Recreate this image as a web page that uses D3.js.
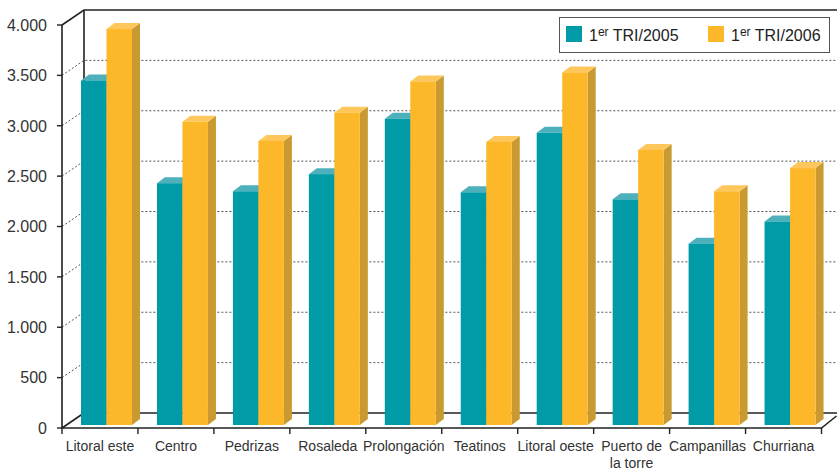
<!DOCTYPE html>
<html>
<head>
<meta charset="utf-8">
<script src="https://cdn.jsdelivr.net/npm/d3@7"></script>
<style>
  html, body { margin: 0; padding: 0; background: #fff; }
  svg { display: block; font-family: "Liberation Sans", Arial, sans-serif; }
</style>
</head>
<body>
<svg id="chart" width="837" height="470"></svg>
<script>
// Districts and first-quarter figures for 2005 and 2006
const categories = ["Litoral este", "Centro", "Pedrizas", "Rosaleda", "Prolongación",
  "Teatinos", "Litoral oeste", "Puerto de|la torre", "Campanillas", "Churriana"];
const series2005 = [3420, 2400, 2320, 2490, 3040, 2310, 2900, 2240, 1800, 2020];
const series2006 = [3930, 3010, 2820, 3100, 3410, 2810, 3500, 2730, 2320, 2550];
const seriesNames = ["TRI/2005", "TRI/2006"];
const yTicks = [0, 500, 1000, 1500, 2000, 2500, 3000, 3500, 4000];

const W = 837, H = 470;
const svg = d3.select("#chart");

// 3D frame geometry
const left = 62, right = 821.5, floorY = 428, topY = 25;
const wallDx = 22, wallDy = -15;      // depth of back wall
const barLift = -3;                   // bars sit slightly behind the front edge
const barDx = 8, barDy = -6;          // bar depth

const x0 = d3.scaleBand().domain(categories).range([left, right]);
const x1 = d3.scaleBand().domain([0, 1]).range([19, 70]);
const y = d3.scaleLinear().domain([0, 4000]).range([floorY, topY]);

const colors = [
  { front: "#009BA7", top: "#4DB0BA", side: "#007C86" },
  { front: "#FCB829", top: "#FEC75C", side: "#C89A31" }
];
const axisColor = "#222";

// Dotted gridlines: diagonal on the side wall and horizontal on the back wall
const grid = svg.append("g");
yTicks.filter(t => t > 0 && t < 4000).forEach(t => {
  const yy = y(t);
  grid.append("path")
    .attr("d", `M${left},${yy} L${left + wallDx},${yy + wallDy} L${W},${yy + wallDy}`)
    .attr("fill", "none").attr("stroke", "#555").attr("stroke-width", 1)
    .attr("stroke-dasharray", "2,2");
});

// Frame lines
const frame = svg.append("g").attr("stroke", axisColor).attr("fill", "none");
frame.append("path").attr("stroke-width", 1.6)
  .attr("d", `M${left},${y(4000)} L${left + wallDx},${y(4000) + wallDy} L${W},${y(4000) + wallDy}`);
frame.append("path").attr("stroke-width", 1.6)
  .attr("d", `M${left + wallDx},${y(4000) + wallDy} L${left + wallDx},${floorY + wallDy} L${W},${floorY + wallDy}`);
frame.append("path").attr("stroke-width", 1.6)
  .attr("d", `M${left},${floorY} L${left + wallDx},${floorY + wallDy}`);

// Bars
const bars = svg.append("g");
categories.forEach((c, i) => {
  [series2005[i], series2006[i]].forEach((v, s) => {
    const col = colors[s];
    const bx = x0(c) + x1(s);
    const bw = x1.bandwidth();
    const yb = y(0) + barLift;
    const yt = y(v) + barLift;
    const g = bars.append("g");
    // side face
    g.append("path")
      .attr("d", `M${bx + bw},${yt} L${bx + bw + barDx},${yt + barDy} L${bx + bw + barDx},${yb + barDy} L${bx + bw},${yb} Z`)
      .attr("fill", col.side);
    // top face
    g.append("path")
      .attr("d", `M${bx},${yt} L${bx + barDx},${yt + barDy} L${bx + bw + barDx},${yt + barDy} L${bx + bw},${yt} Z`)
      .attr("fill", col.top);
    // front face
    g.append("rect")
      .attr("x", bx).attr("y", yt).attr("width", bw).attr("height", yb - yt)
      .attr("fill", col.front);
  });
});

// Front floor edge and left axis
const front = svg.append("g").attr("stroke", axisColor).attr("fill", "none").attr("stroke-width", 1.6);
front.append("path")
  .attr("d", `M${left},${topY} L${left},${floorY} L${right},${floorY} L${right + 15},${floorY - 12}`);

// Y axis ticks and labels
const yAxis = svg.append("g");
yTicks.forEach(t => {
  yAxis.append("line")
    .attr("x1", left - 5).attr("x2", left).attr("y1", y(t)).attr("y2", y(t))
    .attr("stroke", axisColor).attr("stroke-width", 1.4);
  yAxis.append("text")
    .attr("x", 47).attr("y", y(t)).attr("dy", "0.36em")
    .attr("text-anchor", "end").attr("font-size", 16).attr("fill", "#333")
    .text(d3.format(",")(t).replace(/,/g, "."));
});

// X axis ticks and labels
const xAxis = svg.append("g");
d3.range(categories.length + 1).forEach(i => {
  const xx = left + i * x0.step();
  xAxis.append("line")
    .attr("x1", xx).attr("x2", xx).attr("y1", floorY).attr("y2", floorY + 6)
    .attr("stroke", axisColor).attr("stroke-width", 1.4);
});
categories.forEach(c => {
  const t = xAxis.append("text")
    .attr("x", x0(c) + x0.bandwidth() / 2).attr("y", 451)
    .attr("text-anchor", "middle").attr("font-size", 14).attr("fill", "#333");
  c.split("|").forEach((line, k) => {
    t.append("tspan").attr("x", x0(c) + x0.bandwidth() / 2).attr("dy", k ? 17 : 0).text(line);
  });
});

// Legend
const lg = svg.append("g");
lg.append("rect").attr("x", 559.5).attr("y", 17.5).attr("width", 270).attr("height", 35)
  .attr("fill", "#fff").attr("stroke", "#555").attr("stroke-width", 1);
const legendX = [566, 708];
seriesNames.forEach((name, s) => {
  lg.append("rect").attr("x", legendX[s]).attr("y", 26).attr("width", 16).attr("height", 16)
    .attr("fill", colors[s].front);
  const t = lg.append("text").attr("x", legendX[s] + 23).attr("y", 41)
    .attr("font-size", 16).attr("fill", "#222");
  t.append("tspan").text("1");
  t.append("tspan").attr("font-size", 12).attr("dy", -5).text("er");
  t.append("tspan").attr("dy", 5).text(" " + name);
});
</script>
</body>
</html>
